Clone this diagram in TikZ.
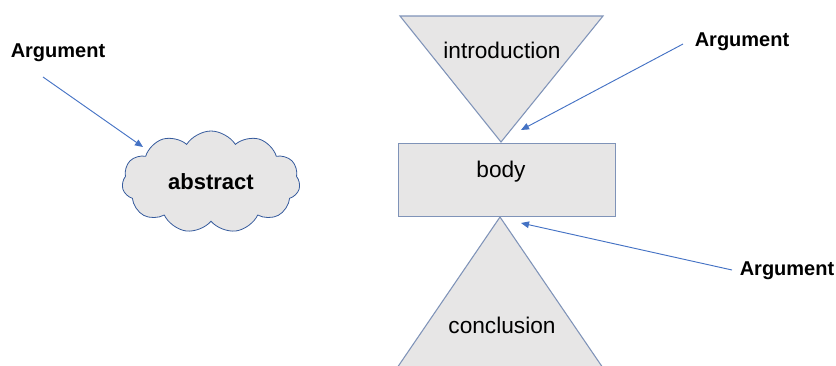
\documentclass[tikz,border=0pt]{standalone}
\usepackage{fontspec}
\setmainfont{Liberation Sans}
\usetikzlibrary{shapes.symbols,arrows.meta}
\definecolor{shapefill}{HTML}{E7E6E6}
\definecolor{shapeline}{HTML}{7F93B8}
\definecolor{arrowblue}{HTML}{4472C4}
\tikzset{
  part/.style={fill=shapefill,draw=shapeline,line width=0.8pt,line join=miter},
  label/.style={font=\fontsize{17}{19}\selectfont,text=black},
  argtext/.style={font=\fontsize{15}{17}\selectfont\bfseries,text=black},
  argarrow/.style={draw=arrowblue,line width=0.7pt,
    -{Triangle[length=6pt,width=5pt]}},
}
\begin{document}
\begin{tikzpicture}[x=0.75pt,y=-0.75pt]
  \clip (0,0) rectangle (836,365);

  % introduction funnel (inverted triangle)
  \draw[part] (400,16) -- (603,16) -- (501,142) -- cycle;
  \node[label] (intro) at (502,50) {introduction};

  % body block
  \node[part,minimum width=217*0.75pt,minimum height=73*0.75pt,
        anchor=north west,inner sep=0pt] (body) at (398,143) {};
  \node[label] (bodytext) at (501,172) {body};

  % conclusion triangle
  \draw[part] (500,217) -- (603,368) -- (397,368) -- cycle;
  \node[label] (concl) at (502,325) {conclusion};

  % abstract cloud
  \node[cloud,cloud puffs=11,cloud puff arc=115,aspect=1.8,
        fill=shapefill,draw=arrowblue!80!black,line width=0.6pt,
        minimum width=178*0.75pt,minimum height=102*0.75pt,
        font=\fontsize{16.5}{18}\selectfont\bfseries] (abstract) at (211,182) {abstract};

  % argument labels
  \node[argtext] (argL) at (58,53) {Argument};
  \node[argtext] (argTR) at (742,42) {Argument};
  \node[argtext] (argBR) at (787,271) {Argument};

  % arrow end points
  \coordinate (startL) at (43,77);
  \coordinate (tipL) at (143,147);
  \coordinate (startTR) at (683,44);
  \coordinate (tipTR) at (521,130);
  \coordinate (startBR) at (732,270);
  \coordinate (tipBR) at (521,223);

  \draw[argarrow] (startL) -- (tipL);
  \draw[argarrow] (startTR) -- (tipTR);
  \draw[argarrow] (startBR) -- (tipBR);
\end{tikzpicture}
\end{document}
